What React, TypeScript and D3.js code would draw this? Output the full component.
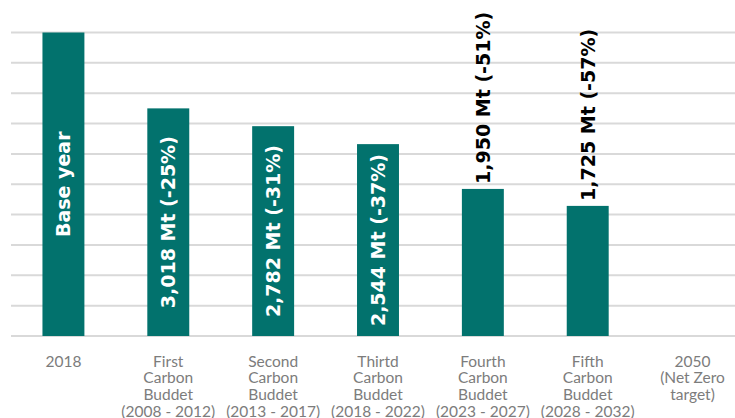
import React from "react";
import * as d3 from "d3";

// Carbon budget levels (Mt CO2e) against the base year
const categories = ["2018", "First", "Second", "Thirtd", "Fourth", "Fifth", "2050"];
const categoryLines: string[][] = [
  ["2018"],
  ["First", "Carbon", "Buddet", "(2008 - 2012)"],
  ["Second", "Carbon", "Buddet", "(2013 - 2017)"],
  ["Thirtd", "Carbon", "Buddet", "(2018 - 2022)"],
  ["Fourth", "Carbon", "Buddet", "(2023 - 2027)"],
  ["Fifth", "Carbon", "Buddet", "(2028 - 2032)"],
  ["2050", "(Net Zero", "target)"],
];
const values: (number | null)[] = [4024, 3018, 2782, 2544, 1950, 1725, null];
const barLabels: string[] = [
  "Base year",
  "3,018 Mt (-25%)",
  "2,782 Mt (-31%)",
  "2,544 Mt (-37%)",
  "1,950 Mt (-51%)",
  "1,725 Mt (-57%)",
  "",
];
// label drawn inside the bar (white) or above it (black)
const labelInside: boolean[] = [true, true, true, true, false, false, false];

const W = 735;
const H = 418;
const BAR = "#02726d";
const GRID = "#d9d9d9";

export default function App() {
  const x = d3
    .scaleBand<string>()
    .domain(categories)
    .range([11, 745])
    .paddingInner(0.6)
    .paddingOuter(0.3);
  const yMax = values[0] as number;
  const y = d3.scaleLinear().domain([0, yMax]).range([336, 32.5]);
  const gridValues = d3.range(0, 11).map((i) => (yMax * i) / 10);

  const lineBase = 366.5;
  const lineStep = 16.7;

  return (
    <svg
      width={W}
      height={H}
      style={{ position: "absolute", left: 0, top: 0, background: "#fff" }}
    >
      <g>
        {gridValues.map((v, i) => (
          <line
            key={i}
            x1={11}
            x2={W}
            y1={y(v)}
            y2={y(v)}
            stroke={GRID}
            strokeWidth={2}
          />
        ))}
      </g>
      <g>
        {categories.map((c, i) => {
          const v = values[i];
          if (v == null) return null;
          const x0 = x(c) as number;
          return (
            <rect
              key={c}
              x={x0}
              y={y(v)}
              width={x.bandwidth()}
              height={y(0) - y(v)}
              fill={BAR}
            />
          );
        })}
      </g>
      <g fontFamily="'DejaVu Sans', Verdana, sans-serif" fontWeight="bold" fontSize={19}>
        {categories.map((c, i) => {
          const v = values[i];
          if (v == null || !barLabels[i]) return null;
          const cx = (x(c) as number) + x.bandwidth() / 2 + 7;
          if (labelInside[i]) {
            const cy = (y(v) + y(0)) / 2;
            return (
              <text
                key={c}
                transform={`translate(${cx},${cy}) rotate(-90)`}
                textAnchor="middle"
                fill="#fff"
              >
                {barLabels[i]}
              </text>
            );
          }
          return (
            <text
              key={c}
              transform={`translate(${cx},${y(v) - 5}) rotate(-90)`}
              textAnchor="start"
              fill="#000"
            >
              {barLabels[i]}
            </text>
          );
        })}
      </g>
      <g fontFamily="Lato, sans-serif" fontSize={15.5} fill="#7c7c7c" textAnchor="middle">
        {categories.map((c, i) => {
          const cx = (x(c) as number) + x.bandwidth() / 2;
          return (
            <text key={c}>
              {categoryLines[i].map((ln, j) => (
                <tspan key={j} x={cx} y={lineBase + j * lineStep}>
                  {ln}
                </tspan>
              ))}
            </text>
          );
        })}
      </g>
    </svg>
  );
}
